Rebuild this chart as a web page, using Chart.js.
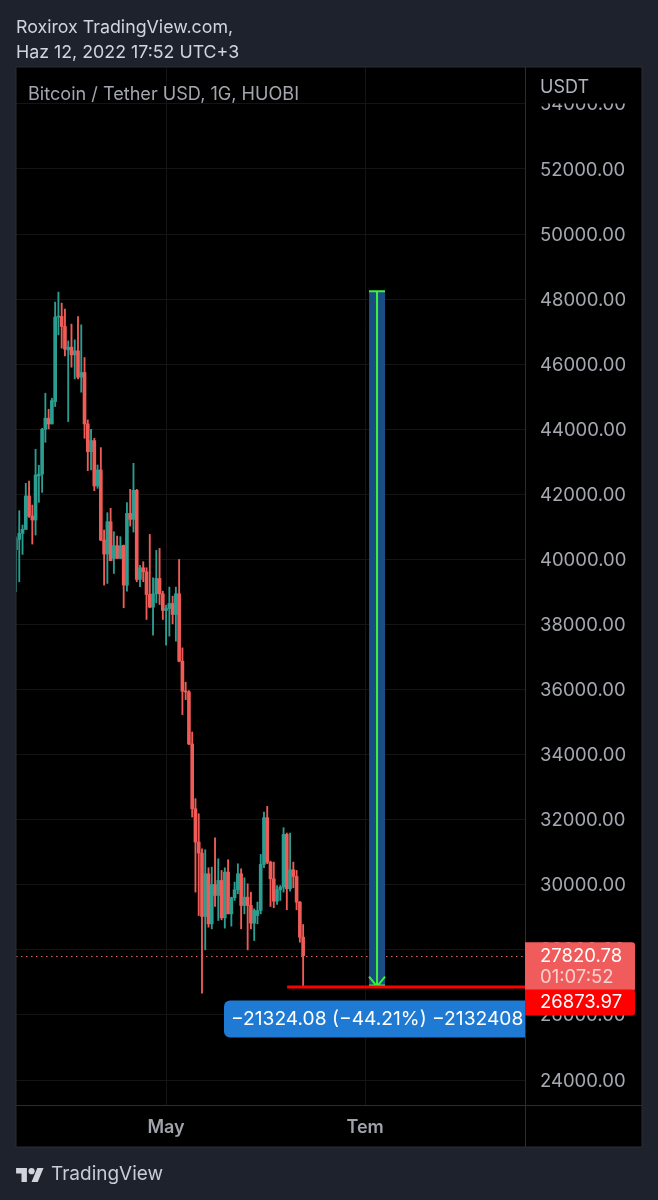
<!DOCTYPE html>
<html><head><meta charset="utf-8">
<style>
html,body{margin:0;padding:0;background:#1e222d;width:658px;height:1200px;overflow:hidden}
#wrap{position:relative;width:658px;height:1200px}
canvas{position:absolute;left:0;top:0}
.t{position:absolute;white-space:nowrap;font-family:Inter,"Noto Sans",sans-serif}
</style>
<script src="https://cdn.jsdelivr.net/npm/chart.js@4/dist/chart.umd.min.js"></script>
</head><body>
<div id="wrap">
<canvas id="c" width="658" height="1200"></canvas>
<div class="t" style="left:16px;top:15px;font-size:17.8px;line-height:24px;color:#d1d4dc">Roxirox TradingView.com,</div>
<div class="t" style="left:16px;top:40px;font-size:17.8px;line-height:24px;color:#d1d4dc">Haz 12, 2022 17:52 UTC+3</div>
<div class="t" style="left:28px;top:81px;font-size:18.1px;line-height:24px;color:#a3a6ae">Bitcoin / Tether USD, 1G, HUOBI</div>
<div class="t" style="left:540px;top:75px;font-size:18px;line-height:24px;color:#b2b5be">USDT</div>
<svg style="position:absolute;left:16px;top:1165px" width="28" height="17" viewBox="0 0 36 22"><path fill="#d1d4dc" d="M14 22H7V11H0V4h14v18zM28 22h-8l7.5-18h8L28 22z"/><circle fill="#d1d4dc" cx="20" cy="8" r="4"/></svg>
<div class="t" style="left:51px;top:1161px;font-size:19px;line-height:26px;color:#c8ccd5">TradingView</div>
</div>
<script>
const startDate = Date.UTC(2022, 2, 16);
const dayCount = 157;
const categories = [];
for (let d = 0; d < dayCount; d++) categories.push(new Date(startDate + d * 864e5).toISOString().slice(0, 10));

const open = [40300,40616,40800,40923,41949,41334,41211,42564,42620,44000,
44339,44164,44851,47446,47470,47159,46441,46523,46287,46410,
45600,45744,44164,43313,43652,42257,42749,40595,40165,41159,
40031,40421,40031,40431,39210,41415,41231,42123,39385,39743,
39620,38923,38533,38943,39415,38943,38431,38492,38646,38308,
38943,36872,35949,35928,34328,32338,31313,30974,29026,30338,
28800,30010,29672,30133,28985,30390,29107,29600,29846,30338,
29364,29620,29364,28820,29056,29210,30626,32061,30697,30184,
29497,29846,29928,31549,29877,30461,30256,29467,28390];
const close = [40616,40800,40923,41949,41334,41211,42595,42620,44000,44339,
44164,44882,47446,47470,47159,46462,46523,46287,46410,45600,
45744,44164,43313,43652,42257,42749,40595,40165,41159,39960,
40421,40031,40421,39210,41415,41231,42123,39385,39743,39620,
38923,38533,38943,39415,38943,38431,38492,38646,38308,38943,
36872,35949,35928,34328,32338,31313,30974,29026,30338,28800,
30010,29672,30133,28985,30390,29107,29600,29846,30338,29364,
29620,29364,28820,29210,29210,30626,32061,30697,30184,29497,
29846,29928,31549,29877,30461,30256,29467,28390,27821];
const high = [40698,41498,41057,42339,42411,41672,43385,42893,44031,45108,
44616,44954,47908,48216,47877,47692,46718,47231,46749,47467,
47210,46205,44287,44000,43723,42903,43436,40903,41436,41570,
40852,40718,40698,40442,41743,42154,42954,42154,39815,39928,
39743,40769,39436,40277,40338,39025,38595,39149,38872,39149,
40000,37282,36226,35969,34697,32646,32184,31107,31077,30523,
30543,31446,30800,30441,30523,30769,29620,30082,30646,30492,
30215,30031,29774,29261,29467,30933,32236,32410,30728,30697,
29979,29979,31754,31590,31590,30697,30441,29487,28779];
const low = [39006,39313,40154,40923,41293,40472,40749,41754,42062,43600,
44011,44164,44698,46903,46493,46257,44236,45908,45549,45549,
45139,43723,42729,42749,42113,42185,40575,39211,39262,39959,
39570,40031,40031,38513,39025,41025,40841,39313,39159,39313,
38154,38513,37672,38667,38615,38154,37364,37641,38021,37487,
36851,35231,35692,34308,32082,29774,29056,26667,28000,28697,
28646,29333,28902,28923,28667,29107,28728,29518,29723,28646,
29107,28000,28646,28287,28800,29107,30523,30646,29333,29292,
29395,29518,29774,29231,29805,29908,29231,28236,26874];

const priceTicks = [24000,26000,28000,30000,32000,34000,36000,38000,40000,42000,44000,46000,48000,50000,52000,54000];
const timeTicks = [{value:46,label:'May'},{value:107,label:'Tem'}];
const lastPrice = 27820.78;
const countdown = '01:07:52';
const targetPrice = 26873.97;
const measureTop = 48198.05;
const measureDays = [108.2, 113.1];
const targetLineStart = 83.1;
const measureText = '\u221221324.08 (\u221244.21%) \u22122132408';

const UP = '#2b9d91', DOWN = '#ef5b57';
const colors = open.map((o, i) => close[i] >= o ? UP : DOWN);
const FONT = 'Inter, "Noto Sans", sans-serif';

const overlay = {
  id: 'overlay',
  beforeDraw(ch) {
    const c = ch.ctx;
    c.save();
    c.fillStyle = '#000';
    c.fillRect(16, 67, 626, 1080);
    c.restore();
  },
  beforeDatasetsDraw(ch) {
    const c = ch.ctx, a = ch.chartArea, y = ch.scales.y;
    c.save();
    c.beginPath(); c.rect(a.left, a.top, a.width, a.height); c.clip();
    c.setLineDash([1.5, 3.5]);
    c.strokeStyle = '#e8605c'; c.lineWidth = 1;
    const ly = Math.round(y.getPixelForValue(lastPrice)) + .5;
    c.beginPath(); c.moveTo(a.left, ly); c.lineTo(a.right, ly); c.stroke();
    c.restore();
  },
  afterDatasetsDraw(ch) {
    const c = ch.ctx, a = ch.chartArea, x = ch.scales.x, y = ch.scales.y;
    const x0 = x.getPixelForValue(measureDays[0]), x1 = x.getPixelForValue(measureDays[1]);
    const yTop = y.getPixelForValue(measureTop) - 1.5, yBot = y.getPixelForValue(targetPrice);
    const cx = (x0 + x1) / 2;
    c.save();
    c.fillStyle = '#1a4d82';
    c.fillRect(x0, yTop, x1 - x0, yBot - yTop);
    c.strokeStyle = '#3df03d'; c.lineWidth = 2;
    c.beginPath();
    c.moveTo(x0, yTop); c.lineTo(x1, yTop);
    c.moveTo(cx, yTop); c.lineTo(cx, yBot);
    c.moveTo(cx - 8, yBot - 10); c.lineTo(cx, yBot); c.lineTo(cx + 8, yBot - 10);
    c.moveTo(x0, yBot - 1); c.lineTo(x1, yBot - 1);
    c.stroke();
    c.strokeStyle = '#ff0000'; c.lineWidth = 3;
    c.beginPath(); c.moveTo(x.getPixelForValue(targetLineStart), yBot + .5); c.lineTo(a.right, yBot + .5); c.stroke();
    c.restore();
  },
  afterDraw(ch) {
    const c = ch.ctx, a = ch.chartArea, y = ch.scales.y;
    c.save();
    c.fillStyle = '#000';
    c.fillRect(a.right + 1, 68, 115, 35.5);
    c.strokeStyle = '#2b2d33'; c.lineWidth = 1;
    c.beginPath();
    c.moveTo(a.right + .5, 67); c.lineTo(a.right + .5, 1147);
    c.moveTo(16, 1105.5); c.lineTo(642, 1105.5);
    c.rect(16, 67, 626, 1080);
    c.stroke();
    const ty = y.getPixelForValue(targetPrice);
    c.fillStyle = '#1f7ad3';
    c.beginPath(); c.roundRect(224, ty + 14, a.right - 224, 37, [6, 0, 0, 6]); c.fill();
    c.fillStyle = '#fff'; c.font = '19.2px ' + FONT; c.textBaseline = 'middle'; c.textAlign = 'left';
    c.fillText(measureText, 231, ty + 33);
    const ly = y.getPixelForValue(lastPrice);
    c.fillStyle = '#f05c5b';
    c.beginPath(); c.roundRect(a.right, ly - 13.5, 110, 49, [0, 3, 3, 0]); c.fill();
    c.fillStyle = '#ff0000';
    c.beginPath(); c.roundRect(a.right, ty + 3, 110, 26, [0, 3, 3, 0]); c.fill();
    c.font = '18.5px ' + FONT; c.textAlign = 'left';
    c.fillStyle = '#fff';
    c.fillText(lastPrice.toFixed(2), 540, ly + 1);
    c.fillText(targetPrice.toFixed(2), 540, ty + 16);
    c.fillStyle = 'rgba(255,255,255,.72)';
    c.fillText(countdown, 540, ly + 22);
    c.restore();
  }
};

new Chart(document.getElementById('c'), {
  type: 'bar',
  data: {
    labels: categories,
    datasets: [
      { label: 'Body', data: open.map((o, i) => [o, close[i]]), backgroundColor: colors, barThickness: 3, grouped: false, minBarLength: 1, borderWidth: 0, borderSkipped: false },
      { label: 'Wick', data: low.map((l, i) => [l, high[i]]), backgroundColor: colors, barThickness: 1.2, grouped: false, borderWidth: 0, borderSkipped: false }
    ]
  },
  options: {
    responsive: false, animation: false, devicePixelRatio: 1,
    layout: { padding: { left: 16, right: 16, top: 67, bottom: 53 } },
    plugins: { legend: { display: false }, tooltip: { enabled: false } },
    scales: {
      x: {
        type: 'category', offset: false,
        afterBuildTicks(s) { s.ticks = timeTicks.map(t => ({ value: t.value, label: t.label })); },
        afterFit(s) { s.height = 42; },
        ticks: {
          autoSkip: false, maxRotation: 0, minRotation: 0, padding: 12,
          color: '#a0a3ab', font: { family: FONT, size: 18, weight: '600' },
          callback(v) { return timeTicks.find(t => t.value === v).label; }
        },
        grid: { color: '#141414', drawTicks: false, lineWidth: 1, offset: false },
        border: { display: false }
      },
      y: {
        position: 'right', min: 23232, max: 55134,
        afterBuildTicks(s) { s.ticks = priceTicks.map(v => ({ value: v })); },
        afterFit(s) { s.width = 117; },
        ticks: {
          autoSkip: false, padding: 15, color: '#a5a8b0', labelOffset: 1,
          font: { family: FONT, size: 18.5 },
          callback(v) { return Number(v).toFixed(2); }
        },
        grid: { color: '#141414', drawTicks: false, lineWidth: 1 },
        border: { display: false }
      }
    }
  },
  plugins: [overlay]
});
</script>
</body></html>
